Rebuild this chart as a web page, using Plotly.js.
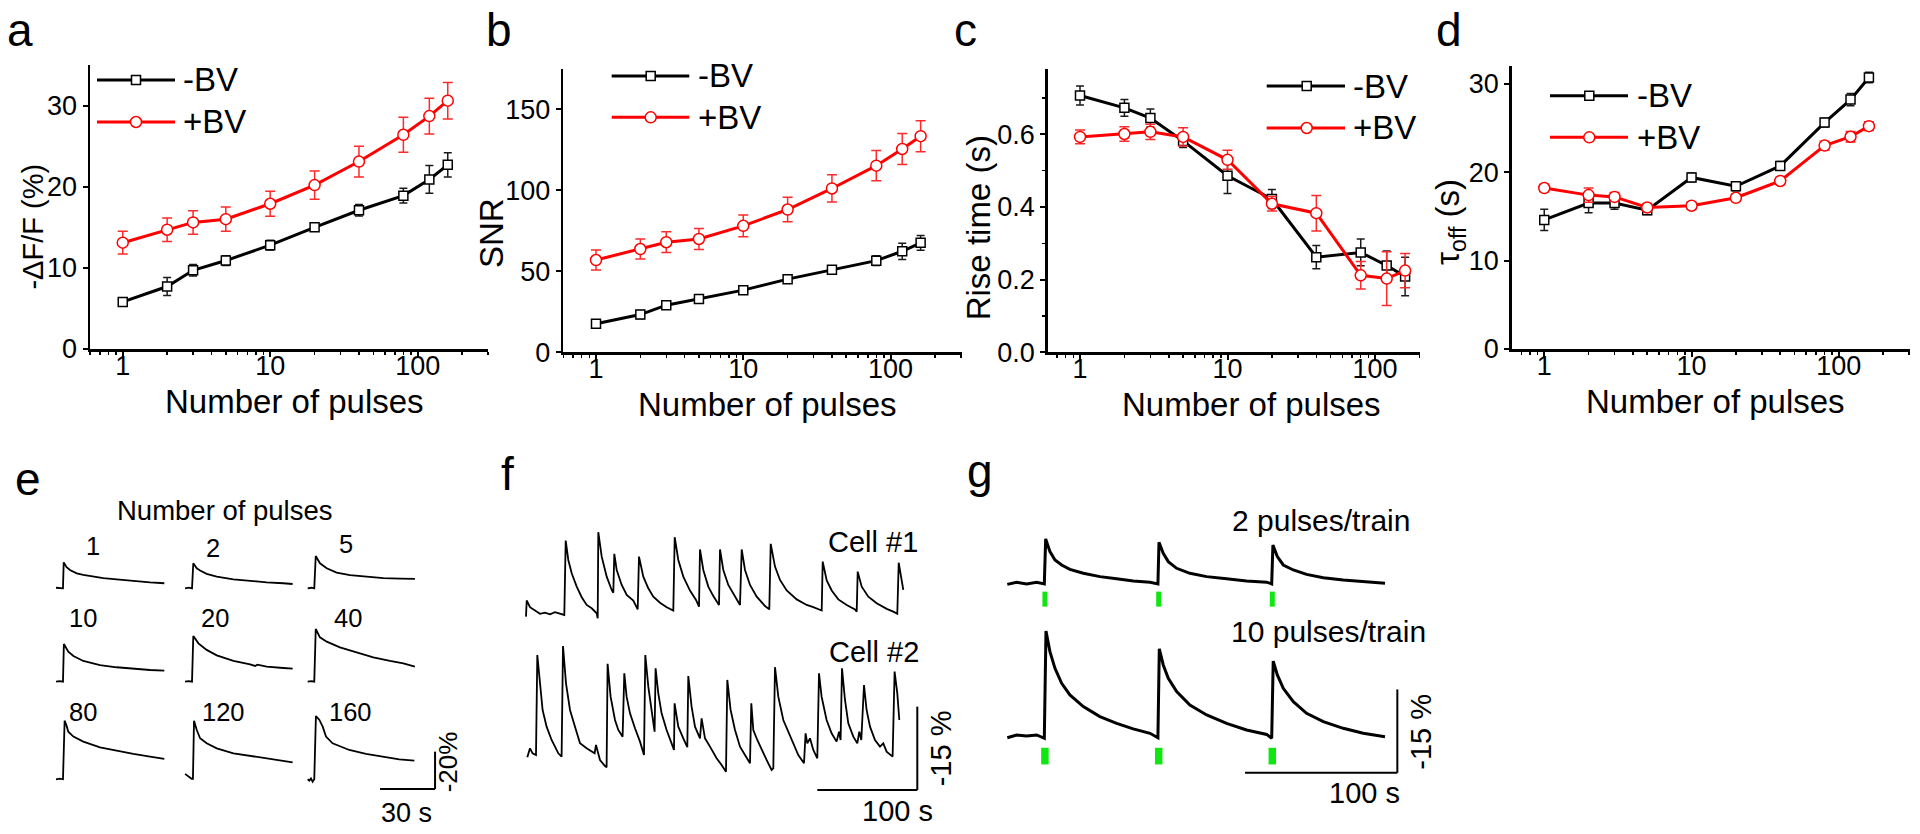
<!DOCTYPE html>
<html><head><meta charset="utf-8">
<script src="https://cdn.plot.ly/plotly-3.0.1.min.js"></script>
<style>html,body{margin:0;padding:0;background:#fff;}#chart{width:1920px;height:834px;}</style>
</head><body><div id="chart"></div>
<script>
// ================= DATA =================
const pulses = [1, 2, 3, 5, 10, 20, 40, 80, 120, 160];
const seriesNames = ['-BV', '+BV'];
const xTitle = 'Number of pulses';

// a: -dF/F (%)
const dffMinus    = [5.8, 7.7, 9.7, 10.9, 12.8, 15.0, 17.1, 18.9, 20.9, 22.7];
const dffMinusErr = [0.4, 1.1, 0.7, 0.6, 0.6, 0.5, 0.7, 0.9, 1.7, 1.5];
const dffPlus     = [13.1, 14.7, 15.6, 16.0, 17.9, 20.2, 23.1, 26.4, 28.7, 30.6];
const dffPlusErr  = [1.4, 1.45, 1.45, 1.5, 1.55, 1.75, 1.9, 2.15, 2.2, 2.25];
// b: SNR
const snrMinus    = [17.6, 23.3, 29.1, 32.9, 38.4, 45.2, 51.0, 56.6, 62.4, 67.6];
const snrMinusErr = [1.5, 2.5, 2, 2, 2, 2, 2.5, 3, 5, 4.5];
const snrPlus     = [57.0, 63.8, 68.0, 70.0, 78.1, 88.2, 101.2, 115.3, 125.6, 133.5];
const snrPlusErr  = [6.2, 6.2, 6.4, 6.5, 6.7, 7.6, 8.4, 9.3, 9.6, 9.6];
// c: rise time (s)
const riseMinus    = [0.707, 0.673, 0.645, 0.582, 0.486, 0.422, 0.262, 0.275, 0.239, 0.209];
const riseMinusErr = [0.026, 0.023, 0.025, 0.018, 0.049, 0.026, 0.032, 0.037, 0.04, 0.053];
const risePlus     = [0.593, 0.601, 0.607, 0.593, 0.530, 0.409, 0.383, 0.212, 0.203, 0.225];
const risePlusErr  = [0.019, 0.02, 0.021, 0.025, 0.026, 0.02, 0.049, 0.038, 0.074, 0.047];
// d: tau_off (s)
const tauMinus    = [14.6, 16.5, 16.5, 15.7, 19.4, 18.4, 20.7, 25.6, 28.2, 30.7];
const tauMinusErr = [1.2, 1.1, 0.7, 0.5, 0.5, 0.5, 0.5, 0.5, 0.7, 0.6];
const tauPlus     = [18.2, 17.4, 17.2, 16.0, 16.2, 17.1, 19.0, 23.0, 24.0, 25.2];
const tauPlusErr  = [0.4, 0.8, 0.5, 0.4, 0.4, 0.4, 0.4, 0.5, 0.6, 0.5];

// e: single traces (time s, -dF/F %)
const ePulseLabels = ['1', '2', '5', '10', '20', '40', '80', '120', '160'];
const e1T = [0, 2, 3.8, 4.2, 5.8, 7.6, 9.5, 11.3, 14.9, 18.5, 25.8, 33.1, 42.2, 51.3, 59.1];
const e1V = [0.3, 0, 0, 13.9, 11.3, 9.8, 8.8, 8.0, 7.2, 6.6, 5.4, 4.8, 3.9, 3.2, 2.7];
const e2T = [0, 2, 3.8, 4.5, 6.4, 8.2, 11.8, 17.3, 26.4, 35.5, 44.5, 53.6, 58.7];
const e2V = [0, 0.4, 0, 13.4, 10.7, 9.5, 7.7, 6.25, 4.8, 3.9, 3.2, 2.7, 2.3];
const e5T = [0, 2, 3.6, 4.4, 6.7, 10.4, 15.8, 23.1, 32.2, 41.3, 50.4, 58.5];
const e5V = [0, 0.3, 0, 17.3, 13.4, 10.7, 8.4, 7.1, 6.25, 5.5, 5.2, 5.0];
const e10T = [0, 2, 3.8, 4.3, 6.7, 9.5, 14.9, 24, 33.1, 42.2, 51.3, 59.1];
const e10V = [0, 0.3, 0, 20.2, 16.1, 13.75, 11.1, 8.9, 7.7, 6.8, 6.25, 5.9];
const e20T = [0, 2, 3.8, 4.5, 7.3, 11.8, 17.3, 26.4, 35.5, 38.2, 39.5, 44.5, 53.6, 58.7];
const e20V = [0, 0.3, 0, 24.5, 20.5, 17.0, 14.1, 11.1, 9.3, 8.4, 9.1, 8.0, 7.3, 7.0];
const e40T = [0, 2, 3.6, 4.4, 6.7, 10.4, 17.6, 26.7, 35.8, 44.9, 52.2, 58.5];
const e40V = [0, 0.3, 0, 28.2, 23.75, 21.4, 18.4, 15.5, 13.0, 11.1, 9.8, 8.0];
const e80T = [0, 2, 3.8, 4.7, 5.8, 6.7, 9.5, 14.9, 24, 33.1, 42.2, 51.3, 59.1];
const e80V = [0, 0.3, 0, 31.4, 28.6, 25.5, 22.9, 20.2, 17.1, 15.2, 13.6, 12.1, 10.9];
const e120T = [0, 3.6, 4.3, 4.9, 6.4, 8.2, 11.8, 17.3, 26.4, 35.5, 44.5, 53.6, 58.7];
const e120V = [2.9, 0.3, 0.3, 31.4, 26.4, 22.0, 19.3, 16.6, 13.9, 12.5, 10.9, 9.8, 9.1];
const e160T = [0, 0.9, 1.8, 2.7, 3.6, 4.5, 6.4, 8.2, 10, 13.6, 22.7, 31.8, 40.9, 50, 58.2];
const e160V = [0, -0.7, 0.5, -1.3, 0, 33.9, 31.8, 28.2, 22.9, 19.3, 15.7, 13.6, 12.1, 10.7, 10.0];

// f: spontaneous activity (time s, -dF/F %)
const cellNames = ['Cell #1', 'Cell #2'];
const cell1T = [0, 0.7, 4, 9, 14, 19, 24, 29, 34, 38.3, 39.7, 42.3, 45.7, 50.7, 55.7, 60.7, 65.7, 70.7, 71.7, 72.3, 75.7, 80.7, 85.7, 87.3, 88.3, 90.7, 95.7, 100.7, 107.3, 111.7, 113, 117.3, 122.3, 127.3, 134, 140.7, 147.3, 148.7, 152.3, 157.3, 164, 170, 173, 174, 177.3, 182.3, 187.3, 193, 194, 197.3, 202.3, 209, 214, 215.7, 219, 224, 230.7, 239, 243.3, 244.7, 249, 254, 260.7, 270.7, 280.7, 287.3, 295.7, 296.7, 300.7, 305.7, 312.3, 320.7, 329, 330.7, 331.7, 335.7, 342.3, 350.7, 360.7, 367.3, 371.3, 372.7, 375.7, 377.3];
const cell1V = [-0.6, 2.3, 1.1, 0.5, -0.1, 0.1, -0.2, 0.2, -0.1, -0.3, 13.1, 9.6, 7.2, 4.8, 2.9, 1.5, 0.9, 0, -0.9, 14.6, 10.2, 6.6, 4.2, 3.7, 10.7, 7.8, 5.1, 3.3, 2.3, 0.7, 10.2, 6.6, 4.5, 3.0, 1.9, 1.1, 0.5, 13.7, 9.6, 6.6, 4.1, 2.4, 1.2, 11.5, 7.8, 4.8, 3.1, 1.5, 11.5, 7.8, 5.1, 2.9, 1.5, 11.5, 7.8, 5.1, 3.0, 1.3, 0.7, 12.5, 8.4, 6.0, 4.1, 2.5, 1.5, 1.1, 0.5, 9.3, 5.9, 4.1, 2.5, 1.5, 0.7, 0.3, 7.5, 4.8, 3.0, 1.8, 0.8, 0.3, -0.1, 9.1, 6.0, 4.2];
const cell2T = [0, 2.7, 5.3, 8.7, 10, 12.7, 15.3, 19.3, 24.3, 27.7, 31, 34.3, 35.7, 38.7, 42.7, 47.7, 52.7, 59.3, 64.3, 67.3, 68.7, 72.7, 77.7, 79.3, 80.3, 83.3, 87.7, 91, 95.3, 97, 99.3, 102.7, 107.7, 112.7, 116.7, 118, 121, 124.3, 127.3, 128.3, 131, 134.3, 139.3, 144.3, 146.7, 147.3, 151, 156, 160, 161, 164.3, 167.7, 172.7, 174.3, 177.7, 182.7, 189.3, 194.3, 198.7, 200, 203.3, 207.7, 212.7, 217.7, 222.7, 224, 226, 230, 234.3, 239.3, 244.3, 246, 247.7, 251, 256, 261, 266, 271, 276.7, 278.3, 280, 282.7, 286, 290, 291.7, 294.3, 299.3, 304.3, 309.3, 311.7, 313.3, 314.7, 317.7, 321, 326, 330, 332, 334, 336.7, 339.3, 342.7, 347.7, 352.7, 356, 359.3, 363.3, 365.3, 367.3, 370, 372];
const cell2V = [-0.4, 1.2, 0.3, 0, 18.0, 12.9, 8.1, 5.1, 2.7, 1.5, 0.3, -0.3, 19.6, 12.9, 8.1, 5.1, 2.1, 1.2, 0.6, 0.3, 1.8, -0.9, -2.0, -2.2, 16.4, 10.5, 6.3, 4.5, 3.3, 14.7, 10.5, 7.5, 4.8, 2.4, 0, 18.0, 12.3, 7.5, 4.2, 15.6, 11.1, 7.5, 4.5, 2.1, 0.9, 9.3, 5.1, 3.0, 1.4, 14.2, 8.7, 5.1, 3.0, 6.6, 3.0, 1.5, -0.6, -1.8, -3.0, 13.5, 8.1, 4.5, 1.5, 0, -1.5, 9.3, 4.5, 2.7, 0.9, -0.9, -2.7, -2.4, 15.8, 10.5, 6.3, 4.2, 2.1, 0, -1.5, 3.9, 2.1, 3.0, 0.9, -0.6, 14.7, 10.5, 6.3, 3.9, 2.4, 4.2, 2.7, 15.6, 9.9, 5.7, 3.3, 2.1, 4.2, 2.7, 12.6, 8.1, 5.1, 2.7, 1.5, 2.1, 0.6, 0, -0.3, 15.0, 11.1, 6.3];

// g: pulse trains (time s, -dF/F %)
const trainNames = ['2 pulses/train', '10 pulses/train'];
const stimTimes = [24.7, 99.4, 174.0];
const train2T = [0, 6.1, 12.7, 19.3, 24.3, 25.2, 28, 31.3, 35.7, 41.1, 49.9, 60.8, 71.8, 82.7, 93.7, 98.9, 99.6, 102.4, 105.7, 111.2, 119.9, 130.9, 144, 157.1, 170.3, 173.6, 174.4, 177.3, 181.2, 187.8, 196.5, 207.5, 220.6, 233.7, 248];
const train2V = [-0.2, 0.2, -0.1, 0.2, -0.1, 8.0, 5.7, 4.2, 3.3, 2.5, 1.8, 1.2, 0.8, 0.4, 0.2, -0.1, 7.4, 5.4, 3.9, 2.7, 1.8, 1.2, 0.8, 0.4, 0.2, -0.1, 6.9, 4.8, 3.3, 2.4, 1.6, 1.0, 0.6, 0.3, 0];
const train10T = [0, 6.1, 12.7, 19.3, 24.3, 25.4, 28, 31.3, 35.7, 41.1, 49.9, 60.8, 71.8, 82.7, 93.7, 98.9, 99.8, 102.4, 105.7, 111.2, 119.9, 130.9, 144, 157.1, 170.3, 173.6, 174.6, 177.3, 181.2, 187.8, 196.5, 207.5, 220.6, 233.7, 248];
const train10V = [-0.2, 0.3, 0.1, 0.3, -0.3, 19.0, 15.3, 12.3, 9.6, 7.5, 5.4, 3.6, 2.4, 1.4, 0.6, -0.2, 15.8, 12.9, 10.5, 8.1, 5.7, 3.9, 2.4, 1.2, 0.4, -0.3, 13.6, 11.1, 8.7, 6.3, 4.2, 2.7, 1.5, 0.6, 0];

// ================= LAYOUT HELPERS =================
const W = 1920, H = 834;
const FONT = 'Liberation Sans, Arial, Helvetica, sans-serif';
const px = v => v / W;
const py = v => 1 - v / H;
const traces = [], shapes = [], annotations = [];
const layout = {
  width: W, height: H, margin: {l: 0, r: 0, t: 0, b: 0},
  paper_bgcolor: '#ffffff', plot_bgcolor: 'rgba(0,0,0,0)', showlegend: false,
  font: {family: FONT, color: '#000'}, shapes, annotations
};
function txt(text, x, y, size, opts) {
  annotations.push(Object.assign({text, x: px(x), y: py(y), xref: 'paper', yref: 'paper', showarrow: false,
    xanchor: 'center', yanchor: 'middle', font: {family: FONT, size, color: '#000'}}, opts || {}));
}

// ================= TOP PANELS =================
const topPanels = [
  {n: 1, box: [90, 488, 65, 349], xr: [-0.222, 2.477], yr: [0, 35], dtick: 10, title: '-ΔF/F (%)',
   minus: dffMinus, minusErr: dffMinusErr, plus: dffPlus, plusErr: dffPlusErr,
   xt: [294.2, 401], yt: [33, 226.6, 29],
   leg: {x0: 97, x1: 175, mx: 136, tx: 181, y: [80, 122]}, letter: ['a', 5]},
  {n: 2, box: [563.3, 961.7, 69, 352.3], xr: [-0.222, 2.483], yr: [0, 175], dtick: 50, title: 'SNR',
   minus: snrMinus, minusErr: snrMinusErr, plus: snrPlus, plusErr: snrPlusErr,
   xt: [767.8, 404], yt: [491, 233, 33],
   leg: {x0: 611.7, x1: 689.3, mx: 650.7, tx: 696, y: [76, 117.3]}, letter: ['b', 484]},
  {n: 3, box: [1047.7, 1420, 69, 352.3], xr: [-0.219, 2.305], yr: [0, 0.78], dtick: 0.2, minor: 0.1, fmt: '.1f', title: 'Rise time (s)',
   minus: riseMinus, minusErr: riseMinusErr, plus: risePlus, plusErr: risePlusErr,
   xt: [1251.7, 404], yt: [978, 228.3, 33],
   leg: {x0: 1266.7, x1: 1345, mx: 1306.7, tx: 1351, y: [86, 128]}, letter: ['c', 952]},
  {n: 4, box: [1511.7, 1910, 66, 349], xr: [-0.221, 2.483], yr: [0, 32], dtick: 10, title: 'τ<sub>off</sub> (s)',
   minus: tauMinus, minusErr: tauMinusErr, plus: tauPlus, plusErr: tauPlusErr,
   xt: [1715, 401], yt: [1450, 222, 33],
   leg: {x0: 1550, x1: 1628, mx: 1589.3, tx: 1634.5, y: [95.7, 137.3]}, letter: ['d', 1434]}
];

topPanels.forEach(p => {
  const xs = p.n === 1 ? '' : String(p.n);
  const xref = 'x' + xs, yref = 'y' + xs;
  layout['xaxis' + xs] = {
    type: 'log', domain: [px(p.box[0]), px(p.box[1])], range: p.xr, anchor: yref,
    showline: true, linewidth: 2.5, linecolor: '#000', mirror: false,
    ticks: 'outside', ticklen: 5, tickwidth: 2, tickcolor: '#000', dtick: 1, ticklabelstandoff: -14,
    minor: {ticks: 'outside', ticklen: 3, tickwidth: 1.5, tickcolor: '#000', dtick: 'D1', showgrid: false},
    showgrid: false, zeroline: false, fixedrange: true,
    tickfont: {family: FONT, size: 27, color: '#000'}
  };
  const ya = {
    domain: [py(p.box[3]), py(p.box[2])], range: p.yr, anchor: xref,
    showline: true, linewidth: 2.5, linecolor: '#000',
    ticks: 'outside', ticklen: 5, tickwidth: 2, tickcolor: '#000', dtick: p.dtick,
    showgrid: false, zeroline: false, fixedrange: true,
    tickfont: {family: FONT, size: 27, color: '#000'}
  };
  if (p.fmt) ya.tickformat = p.fmt;
  if (p.minor) ya.minor = {ticks: 'outside', ticklen: 3, tickwidth: 1.5, tickcolor: '#000', dtick: p.minor, showgrid: false};
  layout['yaxis' + xs] = ya;

  // axis titles
  txt(xTitle, p.xt[0], p.xt[1], 33);
  txt(p.title, p.yt[0], p.yt[1], p.yt[2], {textangle: -90});

  [[p.minus, p.minusErr, false], [p.plus, p.plusErr, true]].forEach(([y, err, isPlus], k) => {
    const col = isPlus ? '#ff0000' : '#000000';
    traces.push({
      type: 'scatter', mode: 'lines+markers', name: seriesNames[k], x: pulses, y, xaxis: xref, yaxis: yref,
      line: {color: col, width: 3},
      marker: isPlus ? {symbol: 'circle', size: 11, color: '#ffffff', line: {color: col, width: 1.5}}
                     : {symbol: 'square', size: 9, color: '#ffffff', line: {color: col, width: 1.5}},
      error_y: {type: 'data', array: err, visible: true, color: isPlus ? '#ff2a2a' : '#1a1a1a', thickness: 1.5, width: isPlus ? 5 : 4},
      cliponaxis: false, hoverinfo: 'x+y'
    });
    // legend glyph
    const L = p.leg, ly = L.y[k];
    shapes.push({type: 'line', xref: 'paper', yref: 'paper', x0: px(L.x0), x1: px(L.x1), y0: py(ly), y1: py(ly), line: {color: col, width: 3}});
    if (isPlus) {
      shapes.push({type: 'circle', xref: 'paper', yref: 'paper', x0: px(L.mx - 5.5), x1: px(L.mx + 5.5), y0: py(ly + 5.5), y1: py(ly - 5.5), fillcolor: '#ffffff', line: {color: col, width: 1.5}});
    } else {
      shapes.push({type: 'rect', xref: 'paper', yref: 'paper', x0: px(L.mx - 4.5), x1: px(L.mx + 4.5), y0: py(ly + 4.5), y1: py(ly - 4.5), fillcolor: '#ffffff', line: {color: col, width: 1.5}});
    }
    txt(seriesNames[k], L.tx, ly, 33, {xanchor: 'left'});
  });
  txt(p.letter[0], p.letter[1], 30, 46, {xanchor: 'left'});
});

// ================= BOTTOM PANELS =================
function traceAxes(n, box, origin, pxs, pyp) {
  layout['xaxis' + n] = {domain: [px(box[0]), px(box[1])], range: [(box[0] - origin[0]) / pxs, (box[1] - origin[0]) / pxs],
    visible: false, anchor: 'y' + n, fixedrange: true, showgrid: false, zeroline: false};
  layout['yaxis' + n] = {domain: [py(box[3]), py(box[2])], range: [(origin[1] - box[3]) / pyp, (origin[1] - box[2]) / pyp],
    visible: false, anchor: 'x' + n, fixedrange: true, showgrid: false, zeroline: false};
}
function lineTrace(n, t, v, dt, dv, w) {
  traces.push({type: 'scatter', mode: 'lines', x: t.map(s => s + dt), y: v.map(a => a + dv),
    xaxis: 'x' + n, yaxis: 'y' + n, line: {color: '#000', width: w}, hoverinfo: 'skip'});
}
function scaleBar(n, x0, y0, dx, dy) {
  shapes.push({type: 'line', xref: 'x' + n, yref: 'y' + n, x0, x1: x0 + dx, y0, y1: y0, line: {color: '#000', width: 2}});
  shapes.push({type: 'line', xref: 'x' + n, yref: 'y' + n, x0: x0 + dx, x1: x0 + dx, y0, y1: y0 + dy, line: {color: '#000', width: 2}});
}

// e
traceAxes(5, [40, 460, 500, 830], [56, 588.3], 1.833, 1.867);
const eSeries = [[e1T, e1V], [e2T, e2V], [e5T, e5V], [e10T, e10V], [e20T, e20V], [e40T, e40V], [e80T, e80V], [e120T, e120V], [e160T, e160V]];
const eColOffset = [0, 70.4, 137.3];
const eRowOffset = [0, -50.0, -102.3];
const eLabelPos = [[93, 545.5], [212.5, 548], [345.5, 544], [82.5, 617.5], [214.7, 617.5], [348, 617.5], [82.8, 712], [223.3, 712], [350.8, 712]];
eSeries.forEach(([t, v], i) => {
  lineTrace(5, t, v, eColOffset[i % 3], eRowOffset[Math.floor(i / 3)], 1.8);
  txt(ePulseLabels[i], eLabelPos[i][0], eLabelPos[i][1], 25.5);
});
scaleBar(5, 176.8, -107.5, 30, 20);
txt(xTitle, 225, 510, 27.5);
txt('30 s', 406.7, 813, 27);
txt('-20%', 448.3, 762, 26, {textangle: -90});
txt('e', 13, 479, 46, {xanchor: 'left'});

// f
traceAxes(6, [505, 960, 515, 830], [526, 613.3], 1.0, 5.556);
lineTrace(6, cell1T, cell1V, 0, 0, 1.8);
lineTrace(6, cell2T, cell2V, 1.3, -25.5, 1.8);
scaleBar(6, 291.3, -31.8, 100, 15);
txt(cellNames[0], 873.3, 541.7, 29);
txt(cellNames[1], 874, 652, 29);
txt('100 s', 897.5, 811.3, 29);
txt('-15 %', 941, 748.3, 29, {textangle: -90});
txt('f', 499, 474, 46, {xanchor: 'left'});

// g
traceAxes(7, [995, 1440, 500, 830], [1007.3, 583.3], 1.523, 5.556);
lineTrace(7, train2T, train2V, 0, 0, 3);
lineTrace(7, train10T, train10V, 0, -27.6, 3);
stimTimes.forEach(s => {
  shapes.push({type: 'line', xref: 'x7', yref: 'y7', x0: s, x1: s, y0: -1.5, y1: -4.2, line: {color: '#12e612', width: 5}});
  shapes.push({type: 'line', xref: 'x7', yref: 'y7', x0: s, x1: s, y0: -29.6, y1: -32.6, line: {color: '#12e612', width: 7.5}});
});
scaleBar(7, 156.1, -34.1, 100, 15);
txt(trainNames[0], 1320.8, 520, 30);
txt(trainNames[1], 1328.3, 631.7, 30);
txt('100 s', 1364, 793.3, 29);
txt('-15 %', 1421, 731.7, 29, {textangle: -90});
txt('g', 965, 471, 46, {xanchor: 'left'});

Plotly.newPlot('chart', traces, layout, {staticPlot: true, displayModeBar: false});
</script>
</body></html>
